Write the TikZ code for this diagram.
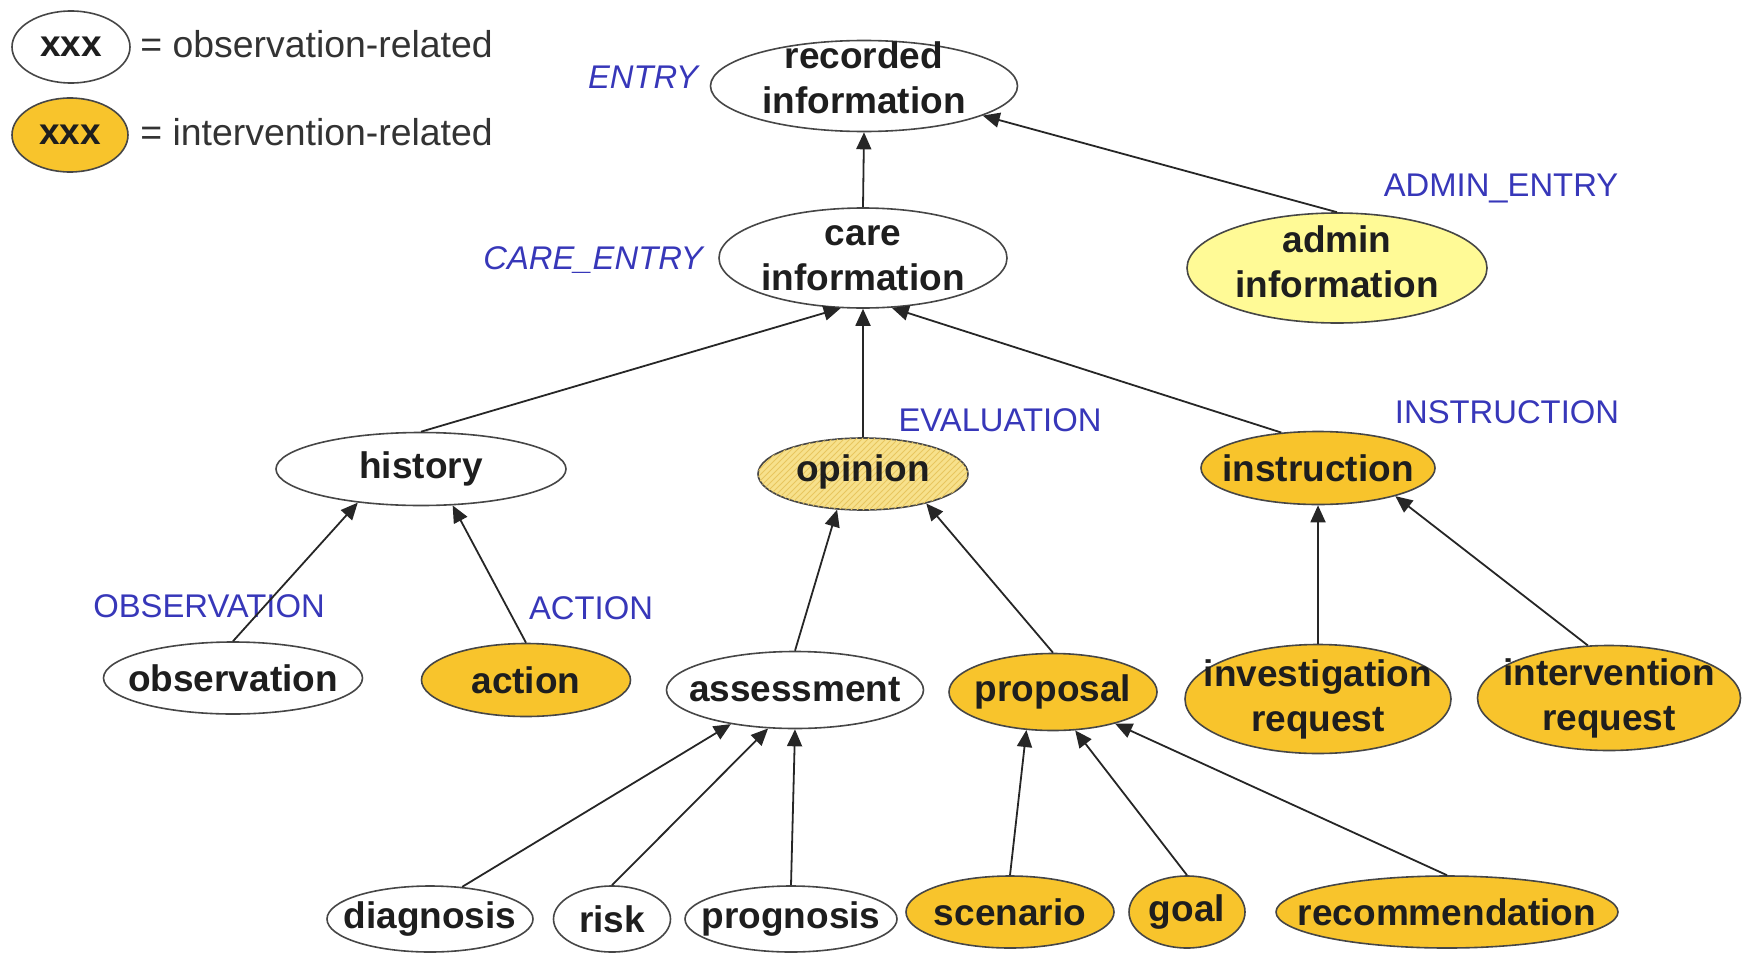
\documentclass[tikz,border=0pt]{standalone}
\usepackage{fontspec}
\setmainfont{Liberation Sans}
\usetikzlibrary{shapes.geometric,arrows.meta,patterns}
\definecolor{gold}{RGB}{248,196,44}
\definecolor{paleyel}{RGB}{255,250,150}
\definecolor{hatchyel}{RGB}{247,225,140}
\definecolor{hatchline}{RGB}{232,198,95}
\definecolor{lblblue}{RGB}{55,55,185}
\definecolor{edgecol}{RGB}{70,70,70}
\definecolor{txtcol}{RGB}{30,30,30}
\begin{document}
\begin{tikzpicture}[x=0.5pt,y=-0.5pt,
 ent/.style={ellipse, draw=edgecol, line width=0.8pt, inner sep=0pt, fill=white},
 intv/.style={ent, fill=gold},
 txt/.style={font=\bfseries\fontsize{18.5}{22.5}\selectfont, text=txtcol, align=center, inner sep=0pt},
 tag/.style={font=\fontsize{16.4}{19}\selectfont, text=lblblue, anchor=base, inner sep=0pt},
 itag/.style={tag, font=\itshape\fontsize{16.4}{19}\selectfont},
 arr/.style={-{Triangle[length=8.5pt,width=7.5pt]}, line width=0.9pt, draw=black!85},
 legtxt/.style={font=\fontsize{18.7}{21}\selectfont, text=black!80, anchor=west, inner sep=0pt}
]
\useasboundingbox (0,0) rectangle (1750,953);

% legend
\node[ent, minimum width=59pt, minimum height=36pt, label={[txt]center:xxx}] (lego) at (71,47) {};
\node[legtxt] (legot) at (140,44) {= observation-related};
\node[intv, minimum width=58pt, minimum height=37pt, label={[txt]center:xxx}] (legi) at (70,135) {};
\node[legtxt] (legit) at (140,132) {= intervention-related};

% nodes
\node[ent, minimum width=153.5pt, minimum height=45.5pt, label={[txt,yshift=4pt]center:{recorded\\information}}] (rec) at (864,86) {};
\node[ent, minimum width=144pt, minimum height=50pt, label={[txt]center:{care\\information}}] (care) at (863,258) {};
\node[ent, fill=paleyel, minimum width=150pt, minimum height=55pt, label={[txt,yshift=3pt]center:{admin\\information}}] (admin) at (1337,268) {};
\node[ent, minimum width=145pt, minimum height=36.5pt, label={[txt]center:history}] (history) at (421,469) {};
\node[ent, fill=hatchyel, postaction={pattern=north east lines, pattern color=hatchline}, minimum width=105pt, minimum height=36pt, label={[txt,yshift=1pt]center:opinion}] (opinion) at (863,474) {};
\node[intv, minimum width=117pt, minimum height=36.5pt, label={[txt]center:instruction}] (instr) at (1318,468) {};
\node[ent, minimum width=129.5pt, minimum height=36pt, label={[txt]center:observation}] (obs) at (233,678) {};
\node[intv, minimum width=104.5pt, minimum height=36.5pt, label={[txt]center:action}] (action) at (526,680) {};
\node[ent, minimum width=128.5pt, minimum height=38.5pt, label={[txt]center:assessment}] (assess) at (795,690) {};
\node[intv, minimum width=104pt, minimum height=38.5pt, label={[txt]center:proposal}] (proposal) at (1053,692) {};
\node[intv, minimum width=133pt, minimum height=54.5pt, label={[txt]center:{investigation\\request}}] (invreq) at (1318,699) {};
\node[intv, minimum width=131.5pt, minimum height=52.5pt, label={[txt]center:{intervention\\request}}] (intreq) at (1609,698) {};
\node[ent, minimum width=103pt, minimum height=33pt, label={[txt]center:diagnosis}] (diag) at (430,919) {};
\node[ent, minimum width=58.5pt, minimum height=33pt, label={[txt]center:risk}] (risk) at (612,919) {};
\node[ent, minimum width=106pt, minimum height=33pt, label={[txt]center:prognosis}] (prog) at (791,919) {};
\node[intv, minimum width=104pt, minimum height=36pt, label={[txt]center:scenario}] (scen) at (1010,912) {};
\node[intv, minimum width=58pt, minimum height=36pt, label={[txt]center:goal}] (goal) at (1187,912) {};
\node[intv, minimum width=171pt, minimum height=36pt, label={[txt]center:recommendation}] (recom) at (1447,912) {};

% blue labels
\node[itag] (tentry) at (643,88) {ENTRY};
\node[itag] (tcare) at (593,269) {CARE\_ENTRY};
\node[tag] (tadmin) at (1501,196) {ADMIN\_ENTRY};
\node[tag] (teval) at (1000,431) {EVALUATION};
\node[tag] (tinstr) at (1507,423) {INSTRUCTION};
\node[tag] (tobs) at (209,617) {OBSERVATION};
\node[tag] (tact) at (591,619) {ACTION};

% connectors
\draw[arr] (care.north) -- (rec.south);
\draw[arr] (admin.north) -- (rec.346);
\draw[arr] (history.north) -- (care.246);
\draw[arr] (opinion.north) -- (care.south);
\draw[arr] (instr.136) -- (care.300);
\draw[arr] (obs.north) -- (history.208);
\draw[arr] (action.north) -- (history.311);
\draw[arr] (assess.north) -- (opinion.234);
\draw[arr] (proposal.north) -- (opinion.335);
\draw[arr] (invreq.north) -- (instr.south);
\draw[arr] (intreq.112) -- (instr.340);
\draw[arr] (diag.45) -- (assess.208);
\draw[arr] (risk.north) -- (assess.235);
\draw[arr] (prog.north) -- (assess.south);
\draw[arr] (scen.north) -- (proposal.235);
\draw[arr] (goal.north) -- (proposal.300);
\draw[arr] (recom.north) -- (proposal.333);
\end{tikzpicture}
\end{document}
